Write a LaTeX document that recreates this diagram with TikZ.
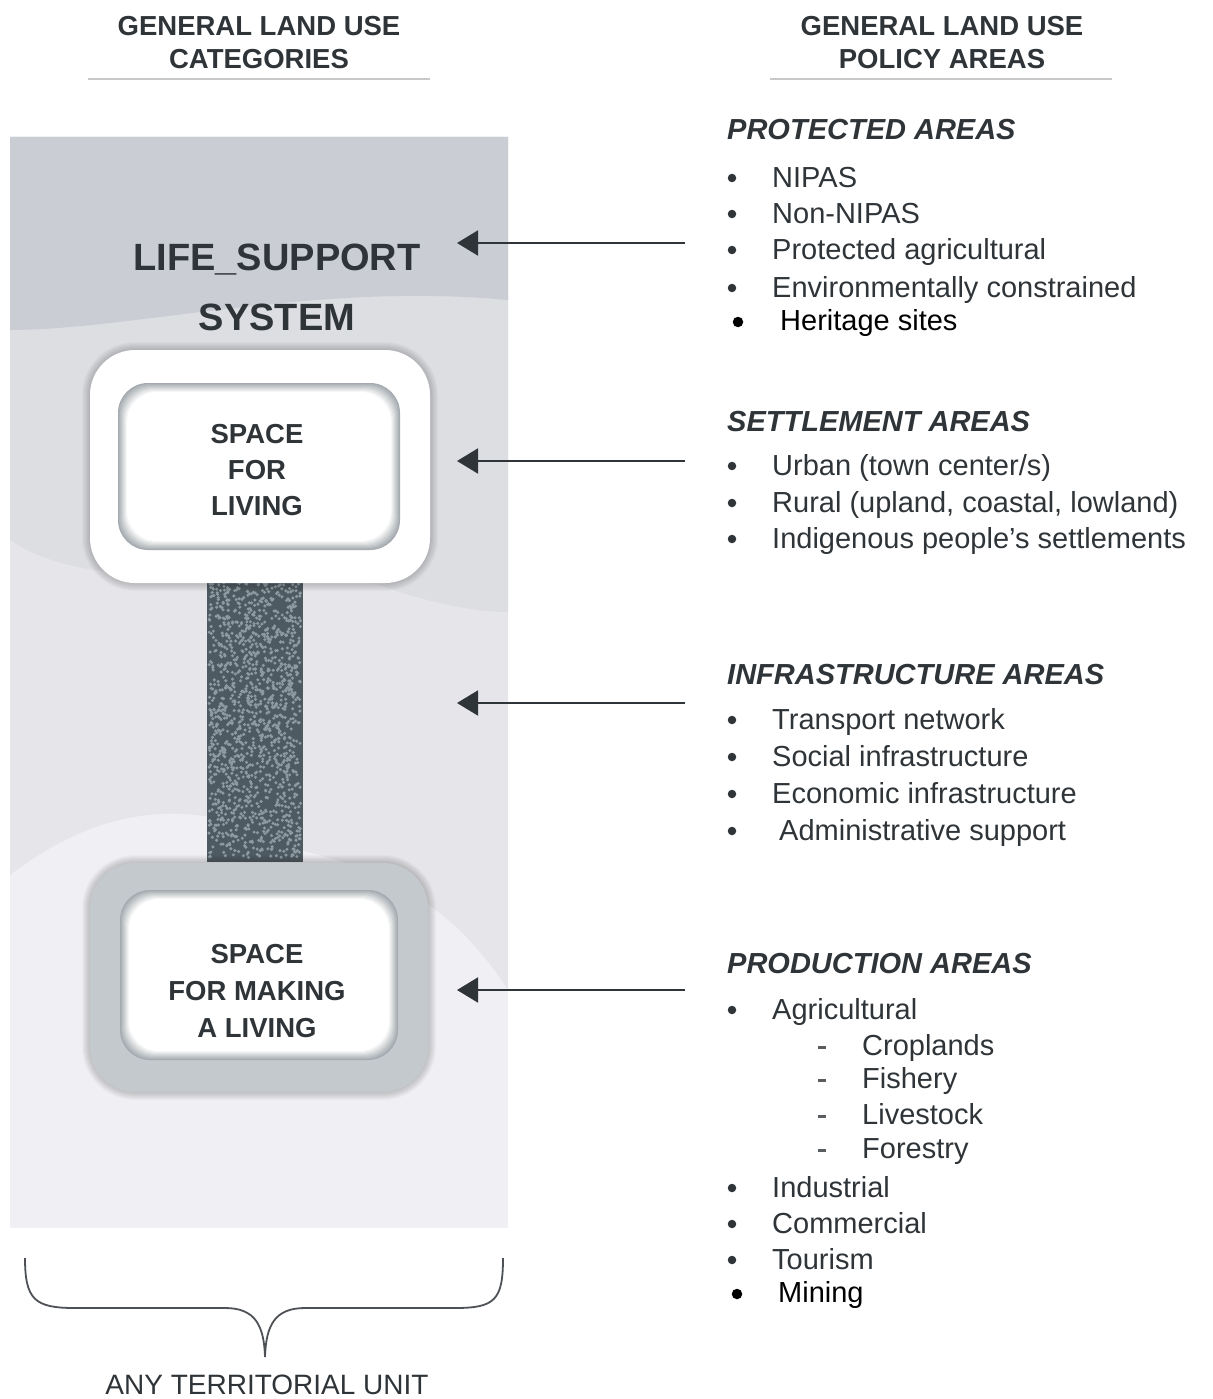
\documentclass[tikz,border=0pt]{standalone}
\usepackage{fontspec}
\setmainfont{Liberation Sans}
\usetikzlibrary{arrows.meta}

\definecolor{ink}{HTML}{2F3438}
\definecolor{bgtop}{HTML}{CACED4}
\definecolor{bgmid}{HTML}{DCDEE2}
\definecolor{bglow}{HTML}{E6E6EA}
\definecolor{bgbot}{HTML}{F0EFF3}
\definecolor{rimgray}{HTML}{C3C9CD}
\definecolor{insetgray}{HTML}{9AA1A6}
\definecolor{bardark}{HTML}{4E5A62}
\definecolor{barspeck}{HTML}{8E9AA1}
\definecolor{rulegray}{HTML}{C8C8C8}

\tikzset{
  hdr/.style={anchor=base, font=\fontsize{27.5}{32}\selectfont\bfseries, text=ink, inner sep=0pt},
  bigtext/.style={anchor=base, font=\fontsize{38}{44}\selectfont\bfseries, text=ink, inner sep=0pt},
  boxtext/.style={anchor=base, font=\fontsize{27.5}{32}\selectfont\bfseries, text=ink, inner sep=0pt},
  area/.style={anchor=base west, font=\fontsize{29}{34}\selectfont\bfseries\itshape, text=ink, inner sep=0pt},
  item/.style={anchor=base west, font=\fontsize{29}{34}\selectfont, text=ink, inner sep=0pt},
  newitem/.style={anchor=base west, font=\fontsize{29}{34}\selectfont, text=black, inner sep=0pt},
  dot/.style={circle, fill=ink, inner sep=0pt, minimum size=8.5pt},
  newdot/.style={circle, fill=black, inner sep=0pt, minimum size=10.5pt},
  subdash/.style={rectangle, fill=ink!80, inner sep=0pt, minimum width=8pt, minimum height=3pt},
  arr/.style={-{Triangle[length=21pt,width=25pt]}, line width=1.8pt, draw=ink},
  rule/.style={draw=rulegray, line width=2pt},
}

\begin{document}
\begin{tikzpicture}[x=1pt, y=-1pt]
  \useasboundingbox (0,0) rectangle (1212,1399);

  % column headings
  \node[hdr] (catA) at (259,36) {GENERAL LAND USE};
  \node[hdr] (catB) at (259,69) {CATEGORIES};
  \draw[rule] (88,79) -- (430,79);
  \node[hdr] (polA) at (942,36) {GENERAL LAND USE};
  \node[hdr] (polB) at (942,69) {POLICY AREAS};
  \draw[rule] (770,79) -- (1112,79);

  % territorial panel
  \fill[bgbot] (10,137) rectangle (508,1228);
  \fill[bglow] (10,137) -- (508,137) -- (508,990)
    .. controls (450,900) and (380,870) .. (300,850)
    .. controls (220,805) and (120,790) .. (10,875) -- cycle;
  \fill[bgmid] (10,137) -- (508,137) -- (508,612)
    .. controls (470,612) and (420,600) .. (380,585)
    .. controls (250,560) and (100,600) .. (10,540) -- cycle;
  \fill[bgtop] (10,137) -- (508,137) -- (508,300)
    .. controls (400,290) and (300,300) .. (200,312)
    .. controls (120,322) and (60,330) .. (10,330) -- cycle;

  \node[bigtext] (lifeA) at (277,270) {LIFE\_SUPPORT};
  \node[bigtext] (lifeB) at (277,330) {SYSTEM};

  % linking bar
  \fill[bardark] (207,575) rectangle (303,862);
  \pgfmathsetseed{11}
  \foreach \k in {1,...,1400}
    \fill[barspeck] ({209+92*rnd},{580+278*rnd}) circle (1.7);

  % space for living
  \foreach \i in {1,...,8}
    \fill[black, opacity=0.025, rounded corners={45+\i}] ({90-\i},{350-\i}) rectangle ({430+\i},{583+\i});
  \fill[white, rounded corners=45] (90,350) rectangle (430,583);
  \foreach \i [evaluate=\i as \c using int(10+10*\i)] in {0,...,9}
    \fill[white!\c!insetgray, rounded corners=30] ({118+\i},{383+\i}) rectangle ({400-\i},{550-\i});
  \node[boxtext] (livA) at (257,443) {SPACE};
  \node[boxtext] (livB) at (257,479) {FOR};
  \node[boxtext] (livC) at (257,515) {LIVING};

  % space for making a living
  \foreach \i in {1,...,8}
    \fill[black, opacity=0.025, rounded corners={45+\i}] ({90-\i},{863-\i}) rectangle ({428+\i},{1092+\i});
  \fill[rimgray, rounded corners=45] (90,863) rectangle (428,1092);
  \foreach \i [evaluate=\i as \c using int(10+10*\i)] in {0,...,9}
    \fill[white!\c!insetgray, rounded corners=30] ({120+\i},{890+\i}) rectangle ({398-\i},{1060-\i});
  \node[boxtext] (makA) at (257,963) {SPACE};
  \node[boxtext] (makB) at (257,1000) {FOR MAKING};
  \node[boxtext] (makC) at (257,1037) {A LIVING};

  % territorial unit brace
  \draw[draw=ink!85, line width=1.8pt]
    (25,1258) .. controls (25,1300) and (35,1308) .. (75,1308) -- (225,1308)
    .. controls (255,1308) and (264,1325) .. (265,1357)
    .. controls (266,1325) and (275,1308) .. (305,1308) -- (455,1308)
    .. controls (495,1308) and (503,1300) .. (503,1258);
  \node[anchor=base, font=\fontsize{28}{32}\selectfont, text=ink, inner sep=0pt] (unit) at (267,1394) {ANY TERRITORIAL UNIT};

  % protected areas
  \node[area] (prot) at (727,140) {PROTECTED AREAS};
  \foreach \y/\t in {187/NIPAS, 223/Non-NIPAS, 259/Protected agricultural, 297/Environmentally constrained}{
    \node[dot] (protdot\y) at (732,\y-9) {};
    \node[item] (prot\y) at (772,\y) {\t};
  }
  \node[newdot] (heritagedot) at (738,322) {};
  \node[newitem] (heritage) at (780,330) {Heritage sites};

  % settlement areas
  \node[area] (sett) at (727,431) {SETTLEMENT AREAS};
  \foreach \y/\t in {475/{Urban (town center/s)}, 512/{Rural (upland, coastal, lowland)}, 548/{Indigenous people's settlements}}{
    \node[dot] (settdot\y) at (732,\y-9) {};
    \node[item] (sett\y) at (772,\y) {\t};
  }

  % infrastructure areas
  \node[area] (infra) at (727,684) {INFRASTRUCTURE AREAS};
  \foreach \y/\x/\t in {729/772/Transport network, 766/772/Social infrastructure, 803/772/Economic infrastructure, 840/779/Administrative support}{
    \node[dot] (infradot\y) at (732,\y-9) {};
    \node[item] (infra\y) at (\x,\y) {\t};
  }

  % production areas
  \node[area] (prod) at (727,973) {PRODUCTION AREAS};
  \foreach \y/\t in {1019/Agricultural, 1197/Industrial, 1233/Commercial, 1269/Tourism}{
    \node[dot] (proddot\y) at (732,\y-9) {};
    \node[item] (prod\y) at (772,\y) {\t};
  }
  \foreach \y/\t in {1055/Croplands, 1088/Fishery, 1124/Livestock, 1158/Forestry}{
    \node[subdash] (subdash\y) at (822,\y-8) {};
    \node[item] (sub\y) at (862,\y) {\t};
  }
  \node[newdot] (miningdot) at (737,1294) {};
  \node[newitem] (mining) at (778,1302) {Mining};

  % arrows from policy areas to categories
  \coordinate (protTail) at (685,243);  \coordinate (protTip) at (457,243);
  \coordinate (settTail) at (685,461);  \coordinate (settTip) at (457,461);
  \coordinate (infraTail) at (685,703); \coordinate (infraTip) at (457,703);
  \coordinate (prodTail) at (685,990);  \coordinate (prodTip) at (457,990);
  \draw[arr] (protTail) -- (protTip);
  \draw[arr] (settTail) -- (settTip);
  \draw[arr] (infraTail) -- (infraTip);
  \draw[arr] (prodTail) -- (prodTip);
\end{tikzpicture}
\end{document}
